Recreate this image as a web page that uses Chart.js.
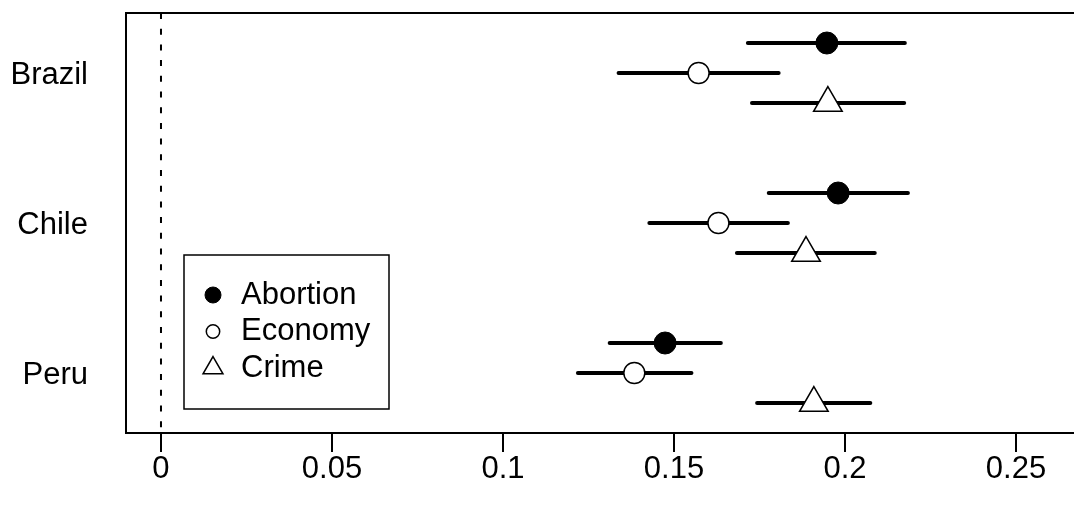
<!DOCTYPE html>
<html>
<head>
<meta charset="utf-8">
<script src="https://cdn.jsdelivr.net/npm/chart.js@4"></script>
<style>
  html, body { margin: 0; padding: 0; background: #fff; }
  canvas { display: block; }
</style>
</head>
<body>
<canvas id="plot" width="1074" height="506"></canvas>
<script>
// countries on the y axis, top to bottom
let countries = ['Brazil', 'Chile', 'Peru'];
let countryPos = [3, 2, 1];
let issues = ['Abortion', 'Economy', 'Crime'];
let issueOffset = [0.2, 0, -0.2];

// estimates and interval ends, per issue, in country order
let abortionEst = [0.1947, 0.1980, 0.1474];
let abortionLo = [0.1716, 0.1777, 0.1312];
let abortionHi = [0.2175, 0.2184, 0.1637];

let economyEst = [0.1572, 0.1630, 0.1384];
let economyLo = [0.1338, 0.1428, 0.1219];
let economyHi = [0.1806, 0.1833, 0.1551];

let crimeEst = [0.1950, 0.1886, 0.1909];
let crimeLo = [0.1728, 0.1684, 0.1743];
let crimeHi = [0.2173, 0.2087, 0.2074];

let xTicks = [0, 0.05, 0.1, 0.15, 0.2, 0.25];
let xTickLabels = ['0', '0.05', '0.1', '0.15', '0.2', '0.25'];

const FONT = '"Liberation Sans", Arial, Helvetica, sans-serif';

const est = [abortionEst, economyEst, crimeEst];
const lo = [abortionLo, economyLo, crimeLo];
const hi = [abortionHi, economyHi, crimeHi];

const markerStyle = [
    { pointStyle: 'circle', radius: 11, bg: '#000', bw: 1 },
    { pointStyle: 'circle', radius: 10.5, bg: '#fff', bw: 1.5 },
    { pointStyle: 'triangle', radius: 16.5, bg: '#fff', bw: 1.5 }
];
const legendStyle = [
    { pointStyle: 'circle', radius: 8, bg: '#000', bw: 1 },
    { pointStyle: 'circle', radius: 6.7, bg: '#fff', bw: 1.5 },
    { pointStyle: 'triangle', radius: 11.5, bg: '#fff', bw: 1.5 }
];

let datasets = [];

// dashed reference line at zero
datasets.push({
    type: 'line',
    data: [{ x: 0, y: 3.4 }, { x: 0, y: 0.6 }],
    borderColor: '#000',
    borderWidth: 2,
    borderDash: [6, 9.7],
    pointRadius: 0,
    showLine: true,
    order: 3
});

// interval segments
issues.forEach((name, i) => {
    countries.forEach((c, j) => {
        let y = countryPos[j] + issueOffset[i];
        datasets.push({
            type: 'line',
            data: [{ x: lo[i][j], y: y }, { x: hi[i][j], y: y }],
            borderColor: '#000',
            borderWidth: 4,
            borderCapStyle: 'round',
            pointRadius: 0,
            showLine: true,
            order: 2
        });
    });
});

// point estimates
issues.forEach((name, i) => {
    let s = markerStyle[i];
    datasets.push({
        type: 'scatter',
        label: name,
        data: countries.map((c, j) => ({ x: est[i][j], y: countryPos[j] + issueOffset[i] })),
        pointStyle: s.pointStyle,
        pointRadius: s.radius,
        pointBackgroundColor: s.bg,
        pointBorderColor: '#000',
        pointBorderWidth: s.bw,
        order: 1
    });
});

const framePlugin = {
    id: 'frame',
    afterDraw(chart) {
        const { ctx, chartArea: a } = chart;
        ctx.save();
        ctx.strokeStyle = '#000';
        ctx.lineWidth = 2;
        ctx.beginPath();
        ctx.moveTo(a.left, a.top);
        ctx.lineTo(a.right + 2, a.top);
        ctx.stroke();
        ctx.restore();
    }
};

const boxLegend = {
    id: 'boxLegend',
    afterDraw(chart) {
        const ctx = chart.ctx;
        ctx.save();
        ctx.strokeStyle = '#000';
        ctx.lineWidth = 1.5;
        ctx.fillStyle = '#fff';
        ctx.fillRect(184, 255, 205, 154);
        ctx.strokeRect(184, 255, 205, 154);
        let rows = [295, 331.5, 368];
        issues.forEach((name, i) => {
            let s = legendStyle[i];
            ctx.fillStyle = s.bg;
            ctx.strokeStyle = '#000';
            ctx.lineWidth = s.bw;
            Chart.helpers.drawPoint(ctx, { pointStyle: s.pointStyle, radius: s.radius, rotation: 0, borderWidth: s.bw }, 213, rows[i]);
            ctx.fillStyle = '#000';
            ctx.font = '31px ' + FONT;
            ctx.textAlign = 'left';
            ctx.textBaseline = 'middle';
            ctx.fillText(name, 241, rows[i]);
        });
        ctx.restore();
    }
};

// keep the plot box where the reference has it
const noPad = (s) => {
    s.paddingLeft = 0;
    s.paddingRight = 0;
    s.paddingTop = 0;
    s.paddingBottom = 0;
};

const ctx = document.getElementById('plot').getContext('2d');

const chart = new Chart(ctx, {
    type: 'scatter',
    data: { datasets: datasets },
    options: {
        responsive: false,
        animation: false,
        events: [],
        layout: { autoPadding: false, padding: { top: 13, left: 0, right: 0, bottom: 0 } },
        plugins: {
            legend: { display: false },
            tooltip: { enabled: false }
        },
        scales: {
            x: {
                type: 'linear',
                min: -0.01023,
                max: 0.26696,
                afterFit: (s) => { s.height = 73; noPad(s); },
                afterBuildTicks: (s) => { s.ticks = xTicks.map(v => ({ value: v })); },
                grid: {
                    display: true,
                    drawOnChartArea: false,
                    drawTicks: true,
                    tickLength: 19,
                    color: '#000',
                    lineWidth: 2
                },
                border: { display: true, color: '#000', width: 2 },
                ticks: {
                    autoSkip: false,
                    maxRotation: 0,
                    padding: 2,
                    color: '#000',
                    font: { family: FONT, size: 31, lineHeight: 1 },
                    callback: (v) => xTickLabels[xTicks.indexOf(v)]
                }
            },
            y: {
                type: 'linear',
                min: 0.6,
                max: 3.4,
                afterFit: (s) => { s.width = 126; noPad(s); },
                afterBuildTicks: (s) => { s.ticks = countryPos.map(v => ({ value: v })); },
                grid: { display: false, drawTicks: false },
                border: { display: true, color: '#000', width: 2 },
                ticks: {
                    padding: 38,
                    labelOffset: 2,
                    color: '#000',
                    font: { family: FONT, size: 31 },
                    callback: (v) => countries[countryPos.indexOf(v)]
                }
            }
        }
    },
    plugins: [framePlugin, boxLegend]
});
</script>
</body>
</html>
